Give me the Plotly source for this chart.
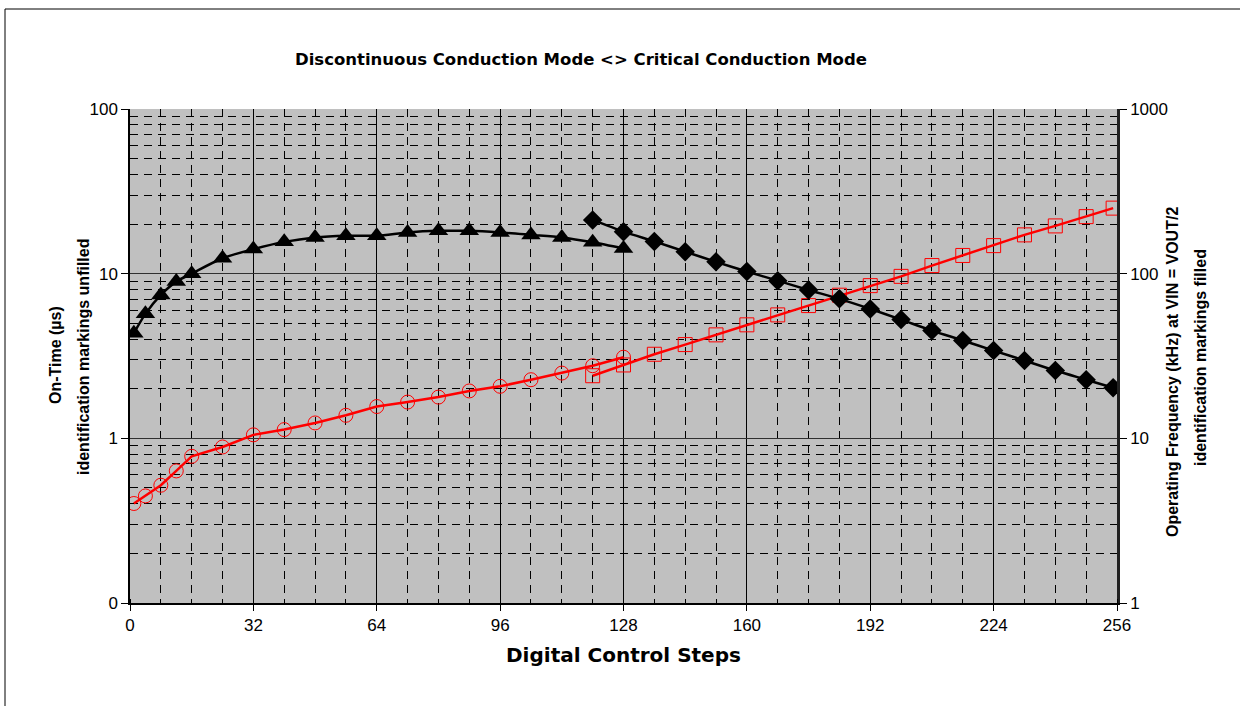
import plotly.graph_objects as go

# ---- data ----
x_dcm = [1, 4, 8, 12, 16, 24, 32, 40, 48, 56, 64, 72, 80, 88, 96, 104, 112, 120, 128]
freq_dcm = [43.5, 57, 74.3, 89.5, 100, 124, 141, 156, 166, 170, 170, 178, 182, 182, 178, 172, 166, 155, 142]
ton_dcm = [0.402, 0.447, 0.519, 0.634, 0.778, 0.886, 1.05, 1.13, 1.24, 1.38, 1.56, 1.66, 1.78, 1.94, 2.07, 2.27, 2.49, 2.76, 3.11]

x_crcm = [120, 128, 136, 144, 152, 160, 168, 176, 184, 192, 200, 208, 216, 224, 232, 240, 248, 255]
freq_crcm = [212, 180, 157, 136, 118, 103, 90.7, 79.6, 70.3, 61.1, 52.6, 45.1, 39.3, 34.1, 29.7, 25.8, 22.7, 20.3]
ton_crcm = [2.40, 2.79, 3.24, 3.71, 4.25, 4.89, 5.62, 6.40, 7.4, 8.46, 9.63, 11.2, 12.9, 14.8, 17.2, 19.5, 22.2, 25.0]

x_ticks = [0, 32, 64, 96, 128, 160, 192, 224, 256]
left_tickvals = [0.1, 1, 10, 100]
left_ticktext = ["0", "1", "10", "100"]
right_tickvals = [1, 10, 100, 1000]
right_ticktext = ["1", "10", "100", "1000"]

title_text = "Discontinuous Conduction Mode &lt;&gt; Critical Conduction Mode"
x_title = "Digital Control Steps"
left_title1 = "On-Time (µs)"
left_title2 = "identification markings unfilled"
right_title1 = "Operating Frequency (kHz) at VIN = VOUT/2"
right_title2 = "identification markings filled"

FONT = "DejaVu Sans, Liberation Sans, Arial, sans-serif"
FONT_V = "Liberation Sans, Arial, sans-serif"

def minor_vals(lo_exp, hi_exp):
    vals = []
    for e in range(lo_exp, hi_exp):
        for d in range(2, 10):
            vals.append(round(d * 10 ** e, 6))
    return vals

fig = go.Figure()

RED = "#FF0000"
fig.add_trace(go.Scatter(
    x=x_dcm, y=ton_dcm, yaxis="y", mode="lines+markers",
    line=dict(color=RED, width=2.5),
    marker=dict(symbol="circle-open", size=14, color=RED, line=dict(width=1, color=RED)),
    showlegend=False))
fig.add_trace(go.Scatter(
    x=x_crcm, y=ton_crcm, yaxis="y", mode="lines+markers",
    line=dict(color=RED, width=2.5),
    marker=dict(symbol="square-open", size=14, color=RED, line=dict(width=1, color=RED)),
    showlegend=False))
fig.add_trace(go.Scatter(
    x=x_dcm, y=freq_dcm, yaxis="y2", mode="lines+markers",
    line=dict(color="black", width=2.5, shape="spline", smoothing=0.8),
    marker=dict(symbol="triangle-up", size=17, color="black"),
    showlegend=False))
fig.add_trace(go.Scatter(
    x=x_crcm, y=freq_crcm, yaxis="y2", mode="lines+markers",
    line=dict(color="black", width=2.5, shape="spline", smoothing=0.8),
    marker=dict(symbol="diamond", size=15, color="black"),
    showlegend=False))

DASH = "8px,6px"
TICKFONT = dict(size=17, family=FONT_V)
fig.update_layout(
    width=1240, height=706, autosize=False,
    margin=dict(l=130, r=123, t=109, b=103),
    paper_bgcolor="white", plot_bgcolor="#C0C0C0",
    font=dict(family=FONT, color="black", size=16),
    xaxis=dict(
        range=[0, 256], tickvals=x_ticks, ticktext=[str(v) for v in x_ticks],
        showgrid=True, gridcolor="black", gridwidth=1,
        showline=True, linecolor="black", linewidth=1.5,
        ticks="outside", ticklen=6, tickcolor="black",
        zeroline=False,
        minor=dict(dtick=8, tick0=0, showgrid=True, gridcolor="black", gridwidth=1,
                   griddash=DASH, ticks="inside", ticklen=4, tickcolor="black"),
        tickfont=TICKFONT,
    ),
    yaxis=dict(
        type="log", range=[-1, 2],
        tickvals=left_tickvals, ticktext=left_ticktext,
        showgrid=True, gridcolor="#303030", gridwidth=1,
        showline=True, linecolor="black", linewidth=1.5,
        ticks="outside", ticklen=7, tickcolor="black",
        zeroline=False,
        minor=dict(tickvals=minor_vals(-1, 2), showgrid=True, gridcolor="black",
                   gridwidth=1, griddash=DASH, ticks="inside", ticklen=4, tickcolor="black"),
        tickfont=TICKFONT,
    ),
    yaxis2=dict(
        type="log", range=[0, 3], overlaying="y", side="right",
        tickvals=right_tickvals, ticktext=right_ticktext,
        showgrid=False,
        showline=True, linecolor="#202020", linewidth=2.5,
        ticks="outside", ticklen=7, tickcolor="black",
        zeroline=False,
        minor=dict(tickvals=minor_vals(0, 3), ticks="inside", ticklen=3, tickcolor="black"),
        tickfont=TICKFONT,
    ),
)

def px2x(px):
    return (px - 130) / 987.0

def py2y(py):
    return (603 - py) / 494.0

ann = [
    dict(text="<b>%s</b>" % title_text, x=px2x(581), y=py2y(60), font=dict(size=16.5)),
    dict(text="<b>%s</b>" % x_title, x=px2x(623), y=py2y(655), font=dict(size=20)),
    dict(text="<b>%s</b>" % left_title1, x=px2x(55), y=py2y(355), textangle=-90,
         font=dict(size=16, family=FONT_V)),
    dict(text="<b>%s</b>" % left_title2, x=px2x(83), y=py2y(357), textangle=-90,
         font=dict(size=16, family=FONT_V)),
    dict(text="<b>%s</b>" % right_title1, x=px2x(1172), y=py2y(372), textangle=-90,
         font=dict(size=16, family=FONT_V)),
    dict(text="<b>%s</b>" % right_title2, x=px2x(1200), y=py2y(358), textangle=-90,
         font=dict(size=16, family=FONT_V)),
]
for a in ann:
    a.update(xref="paper", yref="paper", showarrow=False, xanchor="center", yanchor="middle")
fig.update_layout(annotations=ann)

fig.add_shape(type="rect", xref="paper", yref="paper",
              x0=px2x(5), y0=py2y(720), x1=px2x(1260), y1=py2y(9),
              line=dict(color="black", width=1), fillcolor="rgba(0,0,0,0)", layer="below")

fig.write_html("out.html", config={"displayModeBar": False},
               post_script="document.body.style.margin='0px';")
